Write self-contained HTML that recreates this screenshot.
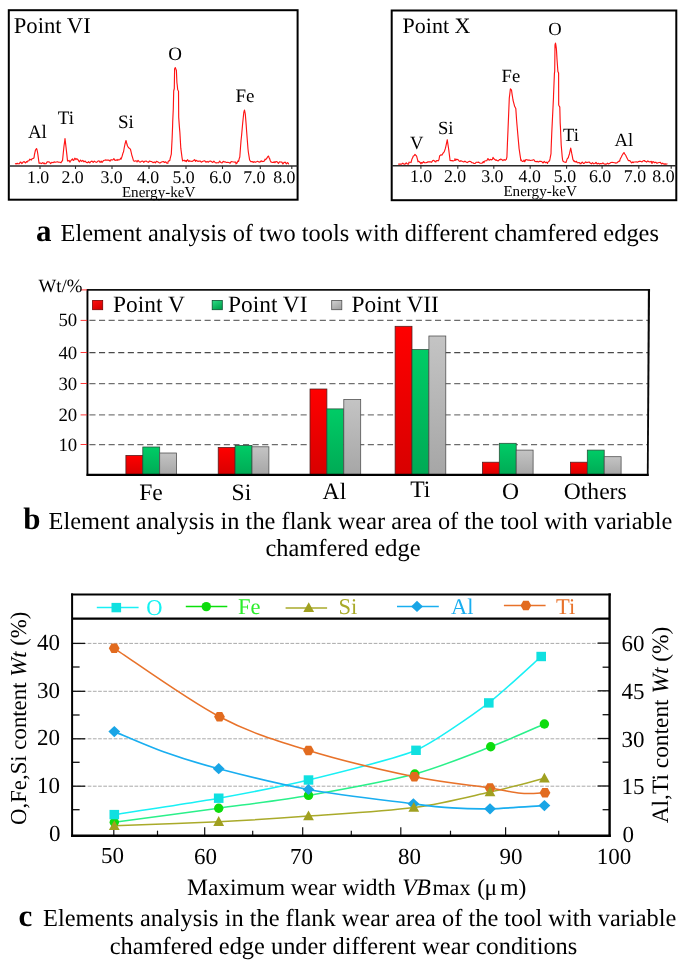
<!DOCTYPE html>
<html lang="en"><head><meta charset="utf-8"><title>Figure</title>
<style>
html,body{margin:0;padding:0;background:#fff;}
body{width:685px;height:962px;overflow:hidden;}
svg{display:block;font-family:'Liberation Serif', serif;text-rendering:geometricPrecision;will-change:transform;}
</style></head><body>
<svg width="685" height="962" viewBox="0 0 685 962">
<rect width="685" height="962" fill="#fff"/>
<rect x="8.8" y="10.2" width="288.8" height="189.5" fill="#fff" stroke="#000" stroke-width="2"/>
<line x1="8.8" y1="165.9" x2="297.6" y2="165.9" stroke="#2a2a2a" stroke-width="1.5"/>
<line x1="40" y1="165.9" x2="40" y2="168.9" stroke="#2a2a2a" stroke-width="1.1"/>
<line x1="75.5" y1="165.9" x2="75.5" y2="168.9" stroke="#2a2a2a" stroke-width="1.1"/>
<line x1="112" y1="165.9" x2="112" y2="168.9" stroke="#2a2a2a" stroke-width="1.1"/>
<line x1="149" y1="165.9" x2="149" y2="168.9" stroke="#2a2a2a" stroke-width="1.1"/>
<line x1="186" y1="165.9" x2="186" y2="168.9" stroke="#2a2a2a" stroke-width="1.1"/>
<line x1="222.5" y1="165.9" x2="222.5" y2="168.9" stroke="#2a2a2a" stroke-width="1.1"/>
<line x1="260.3" y1="165.9" x2="260.3" y2="168.9" stroke="#2a2a2a" stroke-width="1.1"/>
<line x1="291.8" y1="165.9" x2="291.8" y2="168.9" stroke="#2a2a2a" stroke-width="1.1"/>
<text x="27.0" y="183.3" font-size="17.8" text-anchor="start" fill="#000" >1.0</text>
<text x="61.5" y="183.3" font-size="17.8" text-anchor="start" fill="#000" >2.0</text>
<text x="100.4" y="183.3" font-size="17.8" text-anchor="start" fill="#000" >3.0</text>
<text x="136.9" y="183.3" font-size="17.8" text-anchor="start" fill="#000" >4.0</text>
<text x="172.4" y="183.3" font-size="17.8" text-anchor="start" fill="#000" >5.0</text>
<text x="209.2" y="183.3" font-size="17.8" text-anchor="start" fill="#000" >6.0</text>
<text x="243.2" y="183.3" font-size="17.8" text-anchor="start" fill="#000" >7.0</text>
<text x="273.2" y="183.3" font-size="17.8" text-anchor="start" fill="#000" >8.0</text>
<text x="13.7" y="33.2" font-size="22.7" text-anchor="start" fill="#000" >Point VI</text>
<text x="27.9" y="137.9" font-size="19" text-anchor="start" fill="#000" >Al</text>
<text x="57.7" y="123.6" font-size="19" text-anchor="start" fill="#000" >Ti</text>
<text x="117.9" y="128.2" font-size="19" text-anchor="start" fill="#000" >Si</text>
<text x="168.2" y="59.6" font-size="19" text-anchor="start" fill="#000" >O</text>
<text x="235.5" y="101.6" font-size="19" text-anchor="start" fill="#000" >Fe</text>
<text x="121.9" y="197" font-size="15.1" text-anchor="start" fill="#000" >Energy-keV</text>
<polyline points="15.0,163.4 16.1,163.9 17.3,163.4 18.4,163.8 19.6,163.7 20.0,162.4 20.8,162.1 21.9,163.6 23.1,162.0 24.2,161.6 25.4,163.0 26.5,161.5 27.0,162.2 27.6,161.1 28.8,160.8 29.9,159.2 31.0,159.7 31.1,160.2 32.2,158.7 33.4,158.4 34.0,157.8 34.5,154.3 35.5,150.0 35.7,149.8 36.5,148.6 36.9,149.3 37.5,152.0 38.0,155.4 39.0,162.9 39.1,163.3 40.3,163.0 41.5,163.6 42.6,162.6 43.8,163.6 44.0,162.8 44.9,163.8 46.0,163.6 47.2,161.9 48.4,161.9 49.5,162.0 50.6,163.6 51.8,162.3 53.0,162.7 54.1,161.9 55.2,162.3 56.4,162.0 57.5,161.8 58.7,162.3 59.9,162.2 61.0,162.8 62.1,160.8 62.5,160.9 63.3,152.8 64.0,146.0 64.5,142.7 65.0,138.6 65.6,143.6 66.0,147.0 66.8,154.1 67.5,160.6 67.9,161.1 69.0,160.4 70.0,162.2 70.2,161.5 71.3,160.1 72.5,158.8 73.0,160.2 73.7,160.4 74.8,158.2 76.0,159.6 76.0,158.7 77.1,158.9 78.2,160.0 79.0,161.5 79.4,161.8 80.5,160.1 81.7,161.4 82.8,160.3 84.0,161.8 85.2,161.1 86.3,162.4 87.5,162.7 88.6,161.7 89.8,162.9 90.9,161.5 92.0,161.1 93.2,162.3 94.3,161.2 95.0,161.6 95.5,162.0 96.7,162.3 97.8,161.2 99.0,160.8 100.1,162.5 101.2,161.1 102.0,162.4 102.4,162.1 103.5,160.5 104.7,160.2 105.8,159.9 106.0,160.1 107.0,160.1 108.2,160.1 109.3,160.4 110.0,161.2 110.5,160.1 111.6,159.7 112.8,160.0 113.9,158.6 114.0,158.7 115.0,160.5 116.2,159.9 117.3,160.3 118.0,159.4 118.5,160.0 119.7,159.8 120.8,158.0 121.0,159.2 122.0,156.6 123.1,152.7 123.5,152.0 124.2,148.0 125.0,144.0 125.4,142.6 126.0,140.5 126.5,142.5 127.5,146.0 127.7,146.3 128.8,147.8 129.0,148.0 130.0,148.7 130.5,149.5 131.2,152.4 132.0,156.0 132.3,156.6 133.4,160.4 133.5,160.7 134.6,161.3 135.8,160.8 136.9,161.2 137.0,162.0 138.1,160.4 139.2,161.7 140.3,162.1 141.5,161.2 142.7,161.0 143.8,162.3 144.9,161.2 146.1,161.1 147.2,161.7 148.4,162.3 149.6,161.0 150.7,161.5 151.8,161.6 153.0,162.7 154.2,161.9 155.3,162.9 156.4,161.4 157.6,161.8 158.8,162.5 159.9,163.1 161.1,162.2 162.2,161.7 163.3,161.5 164.5,162.5 165.7,161.8 166.8,163.2 167.9,163.3 168.0,161.9 169.1,160.5 169.7,160.8 170.2,158.4 171.3,154.2 171.4,152.1 172.1,138.7 172.6,126.1 172.7,121.9 173.3,108.8 173.7,91.0 174.3,88.5 174.6,69.0 174.8,68.5 175.3,67.6 176.0,69.4 176.4,70.5 176.9,82.5 177.2,84.8 177.7,89.7 178.3,90.7 178.5,91.0 178.7,117.2 179.4,126.9 179.9,132.7 180.6,144.8 180.8,148.2 181.8,155.8 182.0,157.3 182.6,161.0 182.9,160.7 184.1,160.2 185.2,161.2 186.0,160.5 186.3,161.6 187.5,159.7 188.7,161.4 189.8,160.7 190.0,161.2 190.9,161.2 192.1,161.4 193.2,160.8 194.4,159.7 195.6,161.4 196.0,160.2 196.7,160.5 197.8,161.4 199.0,161.1 200.2,161.0 201.3,162.2 202.4,161.5 203.6,161.0 204.8,160.8 205.9,162.2 207.1,161.4 208.2,162.2 209.3,161.3 210.5,161.0 211.7,161.8 212.8,162.5 213.9,161.1 215.1,162.5 216.2,162.9 217.4,162.7 218.6,162.8 219.7,161.1 220.8,162.5 222.0,163.0 223.2,161.3 224.3,161.9 225.4,161.9 226.6,162.5 227.8,162.4 228.9,162.5 230.1,163.2 231.2,161.6 232.3,161.8 233.5,162.0 234.7,162.1 235.8,162.0 236.0,163.9 236.9,163.2 238.1,160.8 238.6,161.4 239.2,158.6 239.8,157.0 240.4,148.8 241.0,141.0 241.6,135.2 242.6,124.0 242.7,123.0 243.8,112.5 243.8,112.3 244.5,110.0 245.0,112.5 245.3,114.0 246.2,125.1 246.6,131.0 247.3,140.0 248.0,149.0 248.4,152.5 249.4,158.7 249.6,160.0 250.8,161.6 251.0,161.6 251.9,161.6 253.0,161.9 253.1,162.4 254.2,161.7 255.3,162.3 256.5,161.8 257.6,161.3 258.8,161.9 259.9,162.2 261.1,160.8 262.0,161.6 262.2,161.4 263.4,161.5 264.6,160.7 265.0,159.2 265.7,159.6 266.9,158.2 267.5,157.0 268.0,156.4 268.5,156.0 269.1,157.9 269.5,158.3 270.3,160.7 271.0,162.1 271.4,162.0 272.6,162.5 273.8,162.5 274.0,161.6 274.9,162.7 276.1,161.5 277.2,161.9 278.4,163.3 279.5,161.8 280.6,162.0 281.8,162.1 282.9,163.9 284.1,162.4 285.2,162.2 286.4,163.9 287.6,162.5 288.7,163.9 289.0,163.8" fill="none" stroke="#ff1414" stroke-width="1.15" stroke-linejoin="round"/>
<rect x="391.7" y="10.5" width="284.59999999999997" height="189.7" fill="#fff" stroke="#000" stroke-width="2"/>
<line x1="391.7" y1="165.7" x2="676.3" y2="165.7" stroke="#2a2a2a" stroke-width="1.5"/>
<line x1="420.9" y1="165.7" x2="420.9" y2="168.7" stroke="#2a2a2a" stroke-width="1.1"/>
<line x1="457.8" y1="165.7" x2="457.8" y2="168.7" stroke="#2a2a2a" stroke-width="1.1"/>
<line x1="493.8" y1="165.7" x2="493.8" y2="168.7" stroke="#2a2a2a" stroke-width="1.1"/>
<line x1="530.2" y1="165.7" x2="530.2" y2="168.7" stroke="#2a2a2a" stroke-width="1.1"/>
<line x1="566.6" y1="165.7" x2="566.6" y2="168.7" stroke="#2a2a2a" stroke-width="1.1"/>
<line x1="602.1" y1="165.7" x2="602.1" y2="168.7" stroke="#2a2a2a" stroke-width="1.1"/>
<line x1="638.8" y1="165.7" x2="638.8" y2="168.7" stroke="#2a2a2a" stroke-width="1.1"/>
<line x1="671.2" y1="165.7" x2="671.2" y2="168.7" stroke="#2a2a2a" stroke-width="1.1"/>
<text x="409.9" y="182" font-size="17.8" text-anchor="start" fill="#000" >1.0</text>
<text x="443.9" y="182" font-size="17.8" text-anchor="start" fill="#000" >2.0</text>
<text x="481.2" y="182" font-size="17.8" text-anchor="start" fill="#000" >3.0</text>
<text x="518.6" y="182" font-size="17.8" text-anchor="start" fill="#000" >4.0</text>
<text x="553.8" y="182" font-size="17.8" text-anchor="start" fill="#000" >5.0</text>
<text x="588.9" y="182" font-size="17.8" text-anchor="start" fill="#000" >6.0</text>
<text x="623.8" y="182" font-size="17.8" text-anchor="start" fill="#000" >7.0</text>
<text x="652.3" y="182" font-size="17.8" text-anchor="start" fill="#000" >8.0</text>
<text x="402.6" y="32.7" font-size="22" text-anchor="start" fill="#000" >Point X</text>
<text x="409.9" y="148.5" font-size="18.6" text-anchor="start" fill="#000" >V</text>
<text x="437.9" y="134" font-size="18.6" text-anchor="start" fill="#000" >Si</text>
<text x="501.6" y="81.9" font-size="18.6" text-anchor="start" fill="#000" >Fe</text>
<text x="548.2" y="35.2" font-size="18.6" text-anchor="start" fill="#000" >O</text>
<text x="563.0" y="141" font-size="18.6" text-anchor="start" fill="#000" >Ti</text>
<text x="614.6" y="146.1" font-size="18.6" text-anchor="start" fill="#000" >Al</text>
<text x="503.4" y="196.3" font-size="15.1" text-anchor="start" fill="#000" >Energy-keV</text>
<polyline points="398.2,164.1 399.4,164.1 400.5,164.1 401.6,164.1 402.8,163.2 403.9,164.1 404.0,164.1 405.1,164.1 406.2,162.8 407.4,164.0 408.6,164.1 409.0,162.2 409.7,162.3 410.9,162.2 411.0,162.7 412.0,158.9 413.0,157.0 413.1,156.2 414.3,155.4 415.0,154.4 415.4,154.8 416.5,156.0 416.6,156.1 417.8,160.6 418.0,161.8 418.9,161.3 420.1,162.5 421.0,163.8 421.2,162.5 422.4,163.1 423.5,161.7 424.6,162.7 425.8,162.7 426.9,162.4 428.1,161.9 429.2,161.7 430.4,161.9 431.6,162.3 432.7,160.6 433.9,160.3 435.0,161.6 436.0,161.9 436.1,160.9 437.3,160.5 438.4,160.8 439.0,159.5 439.6,156.0 440.8,154.8 441.9,155.1 442.0,155.0 443.1,153.1 444.0,152.0 444.2,151.9 445.4,148.4 445.5,148.0 446.5,143.4 447.3,139.7 447.6,142.1 448.5,148.0 448.8,150.2 449.9,159.0 450.0,160.4 451.1,160.6 452.2,160.5 453.0,161.1 453.4,160.7 454.6,160.5 455.0,158.7 455.7,160.4 456.9,159.1 457.0,159.4 458.0,159.6 459.1,161.0 460.0,161.4 460.3,160.9 461.4,160.9 462.6,161.5 463.8,162.0 464.9,161.1 466.1,162.0 467.2,162.6 468.4,161.7 469.5,161.3 470.6,161.5 471.8,162.7 472.9,162.7 474.1,163.5 475.2,163.4 476.4,162.2 477.6,162.2 478.0,162.4 478.7,162.1 479.9,163.1 481.0,163.2 482.1,163.1 483.3,161.5 484.0,162.7 484.4,161.3 485.6,160.8 486.8,160.7 487.9,158.6 488.0,158.6 489.1,160.3 490.2,159.4 491.0,159.6 491.4,159.9 492.5,159.2 493.0,157.4 493.6,158.5 494.8,159.5 495.9,160.4 496.0,159.8 497.1,160.4 498.2,161.0 499.4,159.6 500.0,159.8 500.6,159.0 501.7,159.5 502.9,160.6 504.0,159.6 505.1,160.3 506.3,159.4 506.9,157.1 507.4,144.0 508.0,130.0 508.6,115.2 509.3,98.0 509.8,94.2 510.4,88.8 510.9,89.3 511.5,90.0 512.0,93.7 513.0,100.0 513.2,100.8 514.4,105.4 514.5,106.0 515.5,107.9 515.8,108.5 516.6,120.2 517.0,125.0 517.8,134.2 519.0,147.4 519.0,148.0 520.1,155.4 520.9,160.7 521.2,159.8 522.4,161.5 523.5,161.2 524.0,160.1 524.7,161.7 525.9,159.6 527.0,159.7 528.0,160.2 528.1,160.0 529.3,160.1 530.5,160.5 531.6,160.2 532.8,160.1 533.0,159.8 533.9,159.7 535.0,161.4 536.2,161.6 537.4,161.4 538.5,162.0 539.6,161.3 540.8,161.3 542.0,161.8 543.1,163.0 544.2,161.4 545.4,162.6 546.5,162.2 547.5,163.5 547.7,162.4 548.9,161.3 549.6,160.7 550.0,158.9 551.0,153.7 551.1,149.4 551.8,131.9 552.3,121.7 552.8,111.5 553.5,97.3 553.5,96.2 554.4,73.7 554.6,72.2 554.7,71.5 555.0,45.0 555.5,43.1 555.8,44.7 556.4,48.9 556.9,57.4 557.0,59.1 557.9,71.5 558.0,71.8 558.6,73.0 558.7,105.0 559.2,106.0 559.8,107.1 560.2,123.1 560.4,126.4 561.2,145.0 561.5,148.5 562.2,156.6 562.6,160.0 563.1,161.2 563.8,161.7 565.0,162.1 565.0,162.2 566.1,162.4 566.3,161.7 567.2,158.8 568.4,157.5 568.5,156.6 569.5,153.7 569.5,153.7 570.7,148.0 571.8,153.7 571.9,154.1 572.9,159.4 573.0,159.7 574.1,161.3 574.3,161.0 575.3,162.0 576.5,161.3 577.0,162.4 577.6,162.8 578.8,162.5 579.9,162.9 580.0,163.7 581.0,163.6 582.2,162.0 583.4,163.4 584.5,163.1 585.6,161.9 586.8,162.6 588.0,162.3 589.1,162.0 590.2,163.0 591.4,163.9 592.5,162.6 593.7,163.8 594.9,163.5 596.0,162.3 597.1,163.9 598.3,163.3 599.5,164.1 600.6,163.6 601.8,163.7 602.9,162.9 604.0,163.9 605.2,164.1 606.4,164.1 607.5,163.2 608.6,163.9 609.8,163.3 611.0,162.5 612.1,162.4 613.2,162.5 614.4,162.8 615.0,162.7 615.5,163.1 616.7,163.0 617.9,162.0 619.0,161.1 619.6,161.3 620.1,159.3 621.3,157.0 622.0,155.5 622.5,154.7 623.6,152.9 624.0,152.6 624.8,154.1 625.9,155.5 626.0,156.0 627.0,157.9 628.2,160.2 629.0,160.8 629.4,160.5 630.5,161.3 631.6,162.9 632.8,161.9 633.0,162.7 634.0,162.0 635.1,162.0 636.2,161.8 637.4,162.2 638.5,161.6 639.7,161.2 640.0,161.4 640.9,161.4 642.0,161.9 643.1,160.8 644.3,160.5 645.0,161.3 645.5,161.3 646.6,162.1 647.8,160.9 648.9,161.8 650.0,161.9 651.2,161.3 652.0,163.5 652.4,161.9 653.5,161.7 654.6,162.7 655.8,162.2 657.0,163.3 658.1,162.8 659.2,162.5 660.4,162.4 661.5,164.0 662.7,163.2 663.9,164.1 665.0,163.9 666.1,164.1 667.3,163.8 667.5,163.7" fill="none" stroke="#ff1414" stroke-width="1.15" stroke-linejoin="round"/>
<text x="35.9" y="241" font-size="31" font-weight="bold">a</text>
<text x="60.6" y="241" font-size="24.4" text-anchor="start" fill="#000" >Element analysis of two tools with different chamfered edges</text>
<defs><linearGradient id="gr" x1="0" y1="0" x2="0" y2="1"><stop offset="0" stop-color="#ff0000"/><stop offset="1" stop-color="#d80000"/></linearGradient><linearGradient id="gg" x1="0" y1="0" x2="0" y2="1"><stop offset="0" stop-color="#00cc66"/><stop offset="1" stop-color="#00aa55"/></linearGradient><linearGradient id="gy" x1="0" y1="0" x2="0" y2="1"><stop offset="0" stop-color="#c4c4c4"/><stop offset="1" stop-color="#a6a6a6"/></linearGradient><linearGradient id="lr" x1="0" y1="0" x2="0.6" y2="1"><stop offset="0" stop-color="#ff1010"/><stop offset="1" stop-color="#d40000"/></linearGradient><linearGradient id="lg" x1="0" y1="0" x2="0.6" y2="1"><stop offset="0" stop-color="#2fdc86"/><stop offset="1" stop-color="#00a44e"/></linearGradient><linearGradient id="ly" x1="0" y1="0" x2="0.6" y2="1"><stop offset="0" stop-color="#d2d2d2"/><stop offset="1" stop-color="#a4a4a4"/></linearGradient></defs>
<line x1="87.4" y1="320.4" x2="648.2" y2="320.4" stroke="#6c6c6c" stroke-width="1.25" stroke-dasharray="6.1 3.5" stroke-dashoffset="7.6"/>
<line x1="87.4" y1="352.5" x2="648.2" y2="352.5" stroke="#4a4a4a" stroke-width="1.25" stroke-dasharray="6.1 3.5" stroke-dashoffset="7.6"/>
<line x1="87.4" y1="383.5" x2="648.2" y2="383.5" stroke="#707070" stroke-width="1.25" stroke-dasharray="6.1 3.5" stroke-dashoffset="7.6"/>
<line x1="87.4" y1="414.9" x2="648.2" y2="414.9" stroke="#7c7c7c" stroke-width="1.25" stroke-dasharray="6.1 3.5" stroke-dashoffset="7.6"/>
<line x1="87.4" y1="444.5" x2="648.2" y2="444.5" stroke="#6c6c6c" stroke-width="1.25" stroke-dasharray="6.1 3.5" stroke-dashoffset="7.6"/>
<line x1="87.4" y1="289.9" x2="650" y2="289.9" stroke="#111" stroke-width="1.7"/>
<polygon points="647.9,289.04999999999995 650.05,289.04999999999995 648.6,475.9 646.85,475.9" fill="#080808"/>
<rect x="125.9" y="455.4" width="16.9" height="19.5" fill="url(#gr)" stroke="#4a2020" stroke-width="0.75"/>
<rect x="142.8" y="447" width="16.9" height="27.9" fill="url(#gg)" stroke="#2a4a38" stroke-width="0.75"/>
<rect x="159.7" y="453" width="16.9" height="21.9" fill="url(#gy)" stroke="#4a4a4a" stroke-width="0.75"/>
<rect x="218.2" y="447.4" width="16.9" height="27.5" fill="url(#gr)" stroke="#4a2020" stroke-width="0.75"/>
<rect x="235.1" y="445.4" width="16.9" height="29.5" fill="url(#gg)" stroke="#2a4a38" stroke-width="0.75"/>
<rect x="252.0" y="446.8" width="16.9" height="28.1" fill="url(#gy)" stroke="#4a4a4a" stroke-width="0.75"/>
<rect x="310.0" y="389.0" width="16.9" height="85.9" fill="url(#gr)" stroke="#4a2020" stroke-width="0.75"/>
<rect x="326.9" y="408.9" width="16.9" height="66.0" fill="url(#gg)" stroke="#2a4a38" stroke-width="0.75"/>
<rect x="343.8" y="399.5" width="16.9" height="75.4" fill="url(#gy)" stroke="#4a4a4a" stroke-width="0.75"/>
<rect x="395.1" y="326.3" width="16.9" height="148.6" fill="url(#gr)" stroke="#4a2020" stroke-width="0.75"/>
<rect x="412.0" y="349.6" width="16.9" height="125.3" fill="url(#gg)" stroke="#2a4a38" stroke-width="0.75"/>
<rect x="428.9" y="336.0" width="16.9" height="138.9" fill="url(#gy)" stroke="#4a4a4a" stroke-width="0.75"/>
<rect x="482.4" y="462.2" width="16.9" height="12.7" fill="url(#gr)" stroke="#4a2020" stroke-width="0.75"/>
<rect x="499.3" y="443.3" width="16.9" height="31.6" fill="url(#gg)" stroke="#2a4a38" stroke-width="0.75"/>
<rect x="516.2" y="450.1" width="16.9" height="24.8" fill="url(#gy)" stroke="#4a4a4a" stroke-width="0.75"/>
<rect x="570.4" y="462.2" width="16.9" height="12.7" fill="url(#gr)" stroke="#4a2020" stroke-width="0.75"/>
<rect x="587.3" y="450.1" width="16.9" height="24.8" fill="url(#gg)" stroke="#2a4a38" stroke-width="0.75"/>
<rect x="604.2" y="456.7" width="16.9" height="18.2" fill="url(#gy)" stroke="#4a4a4a" stroke-width="0.75"/>
<line x1="87.45" y1="289.09999999999997" x2="87.45" y2="475.9" stroke="#000" stroke-width="1.9"/>
<line x1="86.6" y1="474.85" x2="648.6" y2="474.85" stroke="#000" stroke-width="2.1"/>
<line x1="80.60000000000001" y1="289.9" x2="87.10000000000001" y2="289.9" stroke="#ff2020" stroke-width="0.9"/>
<line x1="80.60000000000001" y1="320.4" x2="87.10000000000001" y2="320.4" stroke="#ff2020" stroke-width="0.9"/>
<line x1="80.60000000000001" y1="352.5" x2="87.10000000000001" y2="352.5" stroke="#ff2020" stroke-width="0.9"/>
<line x1="80.60000000000001" y1="383.5" x2="87.10000000000001" y2="383.5" stroke="#ff2020" stroke-width="0.9"/>
<line x1="80.60000000000001" y1="414.9" x2="87.10000000000001" y2="414.9" stroke="#ff2020" stroke-width="0.9"/>
<line x1="80.60000000000001" y1="444.5" x2="87.10000000000001" y2="444.5" stroke="#ff2020" stroke-width="0.9"/>
<text x="38.5" y="292" font-size="18.8" text-anchor="start" fill="#000" >Wt/%</text>
<text x="77.2" y="326.4" font-size="18.8" text-anchor="end" fill="#000" >50</text>
<text x="77.2" y="358.5" font-size="18.8" text-anchor="end" fill="#000" >40</text>
<text x="77.2" y="389.5" font-size="18.8" text-anchor="end" fill="#000" >30</text>
<text x="77.2" y="420.9" font-size="18.8" text-anchor="end" fill="#000" >20</text>
<text x="77.2" y="450.5" font-size="18.8" text-anchor="end" fill="#000" >10</text>
<rect x="92.6" y="300.5" width="10.1" height="9.2" fill="url(#lr)" stroke="#7a0000" stroke-width="0.8"/>
<text x="113.1" y="312.4" font-size="23.4" text-anchor="start" fill="#000" >Point V</text>
<rect x="212.2" y="300.5" width="10.1" height="9.2" fill="url(#lg)" stroke="#0a5030" stroke-width="0.8"/>
<text x="228" y="312.4" font-size="23.4" text-anchor="start" fill="#000" >Point VI</text>
<rect x="331.7" y="300.5" width="10.1" height="9.2" fill="url(#ly)" stroke="#505050" stroke-width="0.8"/>
<text x="351.6" y="312.4" font-size="23.4" text-anchor="start" fill="#000" >Point VII</text>
<text x="151.0" y="499.5" font-size="23.6" text-anchor="middle" fill="#000" >Fe</text>
<text x="241.4" y="499.5" font-size="23.6" text-anchor="middle" fill="#000" >Si</text>
<text x="334.4" y="498.9" font-size="23.6" text-anchor="middle" fill="#000" >Al</text>
<text x="420.3" y="497.4" font-size="23.6" text-anchor="middle" fill="#000" >Ti</text>
<text x="510.4" y="499.3" font-size="23.6" text-anchor="middle" fill="#000" >O</text>
<text x="595.2" y="499.1" font-size="23.6" text-anchor="middle" fill="#000" >Others</text>
<text x="23.3" y="528.5" font-size="31" font-weight="bold">b</text>
<text x="48.5" y="528.5" font-size="24.4" text-anchor="start" fill="#000" >Element analysis in the flank wear area of the tool with variable</text>
<text x="265.5" y="556.4" font-size="24.4" text-anchor="start" fill="#000" >chamfered edge</text>
<line x1="72.1" y1="643.4" x2="609.6" y2="643.4" stroke="#9a9a9a" stroke-width="0.85" stroke-dasharray="3.7 1.5"/>
<line x1="72.1" y1="691.3" x2="609.6" y2="691.3" stroke="#9a9a9a" stroke-width="0.85" stroke-dasharray="3.7 1.5"/>
<line x1="72.1" y1="738.8" x2="609.6" y2="738.8" stroke="#9a9a9a" stroke-width="0.85" stroke-dasharray="3.7 1.5"/>
<line x1="72.1" y1="786.2" x2="609.6" y2="786.2" stroke="#9a9a9a" stroke-width="0.85" stroke-dasharray="3.7 1.5"/>
<line x1="72.1" y1="643.4" x2="85.1" y2="643.4" stroke="#111" stroke-width="1.3"/>
<line x1="72.1" y1="691.3" x2="85.1" y2="691.3" stroke="#111" stroke-width="1.3"/>
<line x1="72.1" y1="738.8" x2="85.1" y2="738.8" stroke="#111" stroke-width="1.3"/>
<line x1="72.1" y1="786.2" x2="85.1" y2="786.2" stroke="#111" stroke-width="1.3"/>
<line x1="72.1" y1="667" x2="79.6" y2="667" stroke="#111" stroke-width="1.3"/>
<line x1="72.1" y1="715" x2="79.6" y2="715" stroke="#111" stroke-width="1.3"/>
<line x1="72.1" y1="762.3" x2="79.6" y2="762.3" stroke="#111" stroke-width="1.3"/>
<line x1="72.1" y1="809.7" x2="79.6" y2="809.7" stroke="#111" stroke-width="1.3"/>
<line x1="609.6" y1="643.1" x2="597.6" y2="643.1" stroke="#111" stroke-width="1.3"/>
<line x1="609.6" y1="690.8" x2="597.6" y2="690.8" stroke="#111" stroke-width="1.3"/>
<line x1="609.6" y1="738.5" x2="597.6" y2="738.5" stroke="#111" stroke-width="1.3"/>
<line x1="609.6" y1="786" x2="597.6" y2="786" stroke="#111" stroke-width="1.3"/>
<line x1="609.6" y1="667.2" x2="602.6" y2="667.2" stroke="#111" stroke-width="1.3"/>
<line x1="609.6" y1="714.7" x2="602.6" y2="714.7" stroke="#111" stroke-width="1.3"/>
<line x1="609.6" y1="762.2" x2="602.6" y2="762.2" stroke="#111" stroke-width="1.3"/>
<line x1="609.6" y1="809.7" x2="602.6" y2="809.7" stroke="#111" stroke-width="1.3"/>
<line x1="113.8" y1="835.7" x2="113.8" y2="827.2" stroke="#111" stroke-width="1.2"/>
<line x1="204.7" y1="835.7" x2="204.7" y2="827.2" stroke="#111" stroke-width="1.2"/>
<line x1="302.7" y1="835.7" x2="302.7" y2="827.2" stroke="#111" stroke-width="1.2"/>
<line x1="400.8" y1="835.7" x2="400.8" y2="827.2" stroke="#111" stroke-width="1.2"/>
<line x1="505.6" y1="835.7" x2="505.6" y2="827.2" stroke="#111" stroke-width="1.2"/>
<line x1="157.5" y1="835.7" x2="157.5" y2="830.7" stroke="#111" stroke-width="1.2"/>
<line x1="252.7" y1="835.7" x2="252.7" y2="830.7" stroke="#111" stroke-width="1.2"/>
<line x1="351.3" y1="835.7" x2="351.3" y2="830.7" stroke="#111" stroke-width="1.2"/>
<line x1="450.5" y1="835.7" x2="450.5" y2="830.7" stroke="#111" stroke-width="1.2"/>
<line x1="558.7" y1="835.7" x2="558.7" y2="830.7" stroke="#111" stroke-width="1.2"/>
<path d="M114.3 814.6 C124.7 813.0 199.3 801.7 218.7 798.2 C238.1 794.7 288.8 784.8 308.5 780.0 C328.2 775.2 398.0 758.0 416.0 750.3 C434.0 742.6 476.3 712.3 488.8 702.9 C501.3 693.5 536.0 661.1 541.2 656.5" fill="none" stroke="#19f0f5" stroke-width="1.5" stroke-linecap="round"/>
<path d="M114.3 822.3 C128.2 820.4 192.8 811.8 218.7 808.2 C244.6 804.6 282.4 800.0 308.5 795.4 C334.6 790.8 390.5 780.5 414.8 774.0 C439.1 767.5 473.4 753.5 490.7 746.8 C508.0 740.1 537.2 727.0 544.4 724.0" fill="none" stroke="#2af08a" stroke-width="1.5" stroke-linecap="round"/>
<path d="M114.3 825.8 C131.7 825.1 186.3 823.3 218.7 821.7 C251.1 820.1 276.0 818.5 308.5 816.1 C341.0 813.8 383.6 811.6 413.8 807.6 C444.1 803.6 468.2 797.0 490.0 792.1 C511.8 787.2 535.3 780.6 544.4 778.3" fill="none" stroke="#a9aa2a" stroke-width="1.5" stroke-linecap="round"/>
<path d="M114.3 731.6 C122.6 735.0 146.8 745.8 164.2 752.0 C181.6 758.2 194.6 762.5 218.7 768.7 C242.8 775.0 276.1 783.6 308.5 789.5 C340.9 795.4 389.5 800.7 413.4 803.8 C437.3 806.9 439.2 807.1 452.0 807.9 C464.8 808.7 474.6 809.2 490.0 808.8 C505.4 808.4 535.3 806.1 544.4 805.6" fill="none" stroke="#19aef0" stroke-width="1.7" stroke-linecap="round"/>
<path d="M114.2 648.3 C131.8 659.7 187.1 699.7 219.5 716.7 C251.9 733.7 276.0 740.5 308.5 750.5 C341.0 760.5 384.1 770.5 414.4 776.8 C444.7 783.0 472.3 785.2 490.1 788.0 C507.9 790.8 511.9 792.5 521.0 793.3 C530.1 794.1 541.0 792.9 545.0 792.8" fill="none" stroke="#e8722a" stroke-width="1.6" stroke-linecap="round"/>
<circle cx="114.3" cy="822.3" r="4.7" fill="#0ddc0d"/>
<circle cx="218.7" cy="808.2" r="4.7" fill="#0ddc0d"/>
<circle cx="308.5" cy="795.4" r="4.7" fill="#0ddc0d"/>
<circle cx="414.8" cy="774.0" r="4.7" fill="#0ddc0d"/>
<circle cx="490.7" cy="746.8" r="4.7" fill="#0ddc0d"/>
<circle cx="544.4" cy="724.0" r="4.7" fill="#0ddc0d"/>
<rect x="109.5" y="809.9" width="9.6" height="9.4" fill="#10e0e0"/>
<rect x="213.9" y="793.5" width="9.6" height="9.4" fill="#10e0e0"/>
<rect x="303.7" y="775.3" width="9.6" height="9.4" fill="#10e0e0"/>
<rect x="411.2" y="745.6" width="9.6" height="9.4" fill="#10e0e0"/>
<rect x="484.0" y="698.2" width="9.6" height="9.4" fill="#10e0e0"/>
<rect x="536.4" y="651.8" width="9.6" height="9.4" fill="#10e0e0"/>
<path d="M114.3 726.0 L120.2 731.6 L114.3 737.2 L108.4 731.6 Z" fill="#19a5e6"/>
<path d="M218.7 763.1 L224.6 768.7 L218.7 774.3 L212.8 768.7 Z" fill="#19a5e6"/>
<path d="M308.5 783.9 L314.4 789.5 L308.5 795.1 L302.6 789.5 Z" fill="#19a5e6"/>
<path d="M413.4 798.2 L419.3 803.8 L413.4 809.4 L407.5 803.8 Z" fill="#19a5e6"/>
<path d="M490.0 803.2 L495.9 808.8 L490.0 814.4 L484.1 808.8 Z" fill="#19a5e6"/>
<path d="M544.4 800.0 L550.3 805.6 L544.4 811.2 L538.5 805.6 Z" fill="#19a5e6"/>
<polygon points="119.6,648.3 116.9,653.0 111.5,653.0 108.8,648.3 111.5,643.6 116.9,643.6" fill="#e26b1f"/>
<polygon points="224.9,716.7 222.2,721.4 216.8,721.4 214.1,716.7 216.8,712.0 222.2,712.0" fill="#e26b1f"/>
<polygon points="313.9,750.5 311.2,755.2 305.8,755.2 303.1,750.5 305.8,745.8 311.2,745.8" fill="#e26b1f"/>
<polygon points="419.8,776.8 417.1,781.5 411.7,781.5 409.0,776.8 411.7,772.1 417.1,772.1" fill="#e26b1f"/>
<polygon points="495.5,788.0 492.8,792.7 487.4,792.7 484.7,788.0 487.4,783.3 492.8,783.3" fill="#e26b1f"/>
<polygon points="550.4,792.8 547.7,797.5 542.3,797.5 539.6,792.8 542.3,788.1 547.7,788.1" fill="#e26b1f"/>
<path d="M114.3 820.2 L119.7 830.0 H108.9 Z" fill="#a0a020"/>
<path d="M218.7 816.1 L224.1 825.9 H213.3 Z" fill="#a0a020"/>
<path d="M308.5 810.5 L313.9 820.3 H303.1 Z" fill="#a0a020"/>
<path d="M413.8 802.0 L419.2 811.8 H408.4 Z" fill="#a0a020"/>
<path d="M490.0 786.5 L495.4 796.3 H484.6 Z" fill="#a0a020"/>
<path d="M544.4 772.7 L549.8 782.5 H539.0 Z" fill="#a0a020"/>
<line x1="72.1" y1="593.4" x2="72.1" y2="836.9000000000001" stroke="#000" stroke-width="2"/>
<line x1="609.6" y1="593.4" x2="609.6" y2="836.9000000000001" stroke="#000" stroke-width="2.4"/>
<line x1="71.1" y1="594.4" x2="610.8000000000001" y2="594.4" stroke="#000" stroke-width="2"/>
<line x1="71.1" y1="835.7" x2="610.8000000000001" y2="835.7" stroke="#000" stroke-width="2.4"/>
<line x1="72.1" y1="618.6" x2="609.6" y2="618.6" stroke="#000" stroke-width="2.3"/>
<line x1="96.8" y1="607.6" x2="138.6" y2="607.6" stroke="#19f0f5" stroke-width="1.5"/>
<rect x="111.5" y="602.9" width="9.6" height="9.4" fill="#10e0e0"/>
<text x="146.2" y="614.6" font-size="22.5" text-anchor="start" fill="#14f2f2" >O</text>
<line x1="185.8" y1="606.6" x2="227.3" y2="606.6" stroke="#0be00b" stroke-width="1.5"/>
<circle cx="206.3" cy="606.6" r="4.7" fill="#0ddc0d"/>
<text x="237.9" y="613.7" font-size="22.5" text-anchor="start" fill="#2bee2b" >Fe</text>
<line x1="285.6" y1="607.9" x2="327.1" y2="607.9" stroke="#a9aa2a" stroke-width="1.5"/>
<path d="M308.7 602.3 L314.1 612.1 H303.3 Z" fill="#a0a020"/>
<text x="338.4" y="614" font-size="22.5" text-anchor="start" fill="#a9aa2a" >Si</text>
<line x1="397" y1="606.4" x2="438.8" y2="606.4" stroke="#19aef0" stroke-width="1.5"/>
<path d="M417.0 600.8 L422.9 606.4 L417.0 612.0 L411.1 606.4 Z" fill="#19a5e6"/>
<text x="450.9" y="613.9" font-size="22.5" text-anchor="start" fill="#19aef0" >Al</text>
<line x1="503.9" y1="605.5" x2="545.6" y2="605.5" stroke="#e8722a" stroke-width="1.5"/>
<polygon points="531.3,605.5 528.6,610.2 523.2,610.2 520.5,605.5 523.2,600.8 528.6,600.8" fill="#e26b1f"/>
<text x="556.0" y="614" font-size="22.5" text-anchor="start" fill="#e8722a" >Ti</text>
<text x="60.1" y="649.8" font-size="23" text-anchor="end" fill="#000" >40</text>
<text x="60.1" y="697.6999999999999" font-size="23" text-anchor="end" fill="#000" >30</text>
<text x="60.1" y="745.1999999999999" font-size="23" text-anchor="end" fill="#000" >20</text>
<text x="60.1" y="792.6" font-size="23" text-anchor="end" fill="#000" >10</text>
<text x="60.6" y="841.3" font-size="23" text-anchor="end" fill="#000" >0</text>
<text x="621.5" y="651.3000000000001" font-size="23" text-anchor="start" fill="#000" >60</text>
<text x="621.5" y="699.0" font-size="23" text-anchor="start" fill="#000" >45</text>
<text x="621.5" y="746.7" font-size="23" text-anchor="start" fill="#000" >30</text>
<text x="621.5" y="794.2" font-size="23" text-anchor="start" fill="#000" >15</text>
<text x="622.6" y="841.5" font-size="23" text-anchor="start" fill="#000" >0</text>
<text x="112.4" y="863" font-size="23" text-anchor="middle" fill="#000" >50</text>
<text x="205.6" y="864.2" font-size="23" text-anchor="middle" fill="#000" >60</text>
<text x="301.5" y="864.2" font-size="23" text-anchor="middle" fill="#000" >70</text>
<text x="409.6" y="864" font-size="23" text-anchor="middle" fill="#000" >80</text>
<text x="511" y="864" font-size="23" text-anchor="middle" fill="#000" >90</text>
<text x="613.9" y="864" font-size="23" text-anchor="middle" fill="#000" >100</text>
<text x="187.0" y="894.6" font-size="23.5">Maximum wear width <tspan x="402.2" font-style="italic">VB</tspan><tspan x="432.4" font-size="22.1">max</tspan><tspan x="477.2">(</tspan><tspan x="484.6">μ</tspan><tspan x="500.3">m</tspan><tspan x="518.6">)</tspan></text>
<text transform="translate(26.3,825) rotate(-90)" font-size="22.8">O,Fe,Si content <tspan font-style="italic">Wt</tspan> (%)</text>
<text transform="translate(668,823.3) rotate(-90)" font-size="23.4">Al,Ti content <tspan font-style="italic">Wt</tspan> (%)</text>
<text x="18.6" y="926.2" font-size="31" font-weight="bold">c</text>
<text x="43.1" y="926.2" font-size="24.4" text-anchor="start" fill="#000" >Elements analysis in the flank wear area of the tool with variable</text>
<text x="109.8" y="953.5" font-size="24.4" text-anchor="start" fill="#000" >chamfered edge under different wear conditions</text>
</svg>
</body></html>
